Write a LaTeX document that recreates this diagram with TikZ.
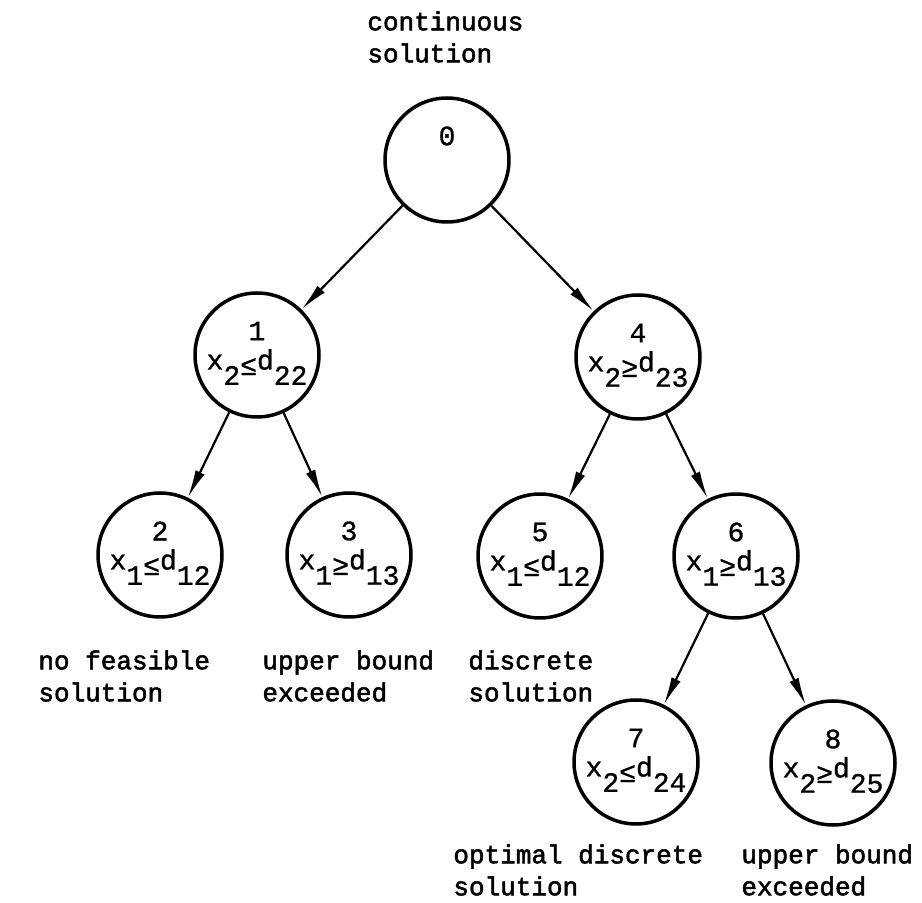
\documentclass[tikz,border=0pt]{standalone}
\usepackage{fontspec}
\setmainfont{Liberation Mono}
\newfontfamily\labelfont{Liberation Mono}[FakeBold=2]
\newfontfamily\nodefont{Liberation Mono}[FakeBold=1]
\usetikzlibrary{arrows.meta}
\newcommand\lowsub[1]{\raisebox{-0.55em}{#1}}
\newcommand\lowle{\raisebox{-0.2em}{≤}}
\newcommand\lowge{\raisebox{-0.2em}{≥}}
\tikzset{
  statenode/.style={circle, draw, line width=1.75pt, minimum size=62pt, inner sep=0pt},
  numtext/.style={inner sep=0pt, font=\nodefont\fontsize{14}{16}\selectfont},
  condtext/.style={inner sep=0pt, font=\nodefont\fontsize{14}{16}\selectfont},
  notetext/.style={inner sep=0pt, anchor=west, align=left, font=\labelfont\fontsize{13}{16}\selectfont},
  branch/.style={line width=1.1pt, -{Latex[length=14pt,width=5pt]}}
}
\begin{document}
\begin{tikzpicture}[x=0.5pt, y=-0.5pt]
\useasboundingbox (0,0) rectangle (922,903);
% states
\node[statenode] (n0) at (447,160) {};
\node[statenode] (n1) at (257,355) {};
\node[statenode] (n4) at (638,357) {};
\node[statenode] (n2) at (160,555) {};
\node[statenode] (n3) at (349,555) {};
\node[statenode] (n5) at (540,556) {};
\node[statenode] (n6) at (736,556) {};
\node[statenode] (n7) at (636,762) {};
\node[statenode] (n8) at (833,763) {};
% numbers
\node[numtext] (t0) at ([yshift=12pt]n0.center) {0};
\node[numtext] (t1) at ([yshift=12pt]n1.center) {1};
\node[numtext] (t4) at ([yshift=12pt]n4.center) {4};
\node[numtext] (t2) at ([yshift=12pt]n2.center) {2};
\node[numtext] (t3) at ([yshift=12pt]n3.center) {3};
\node[numtext] (t5) at ([yshift=12pt]n5.center) {5};
\node[numtext] (t6) at ([yshift=12pt]n6.center) {6};
\node[numtext] (t7) at ([yshift=12pt]n7.center) {7};
\node[numtext] (t8) at ([yshift=12pt]n8.center) {8};
% conditions
\node[condtext] (c1) at ([yshift=-6pt]n1.center) {x\lowsub{2}\lowle d\lowsub{22}};
\node[condtext] (c4) at ([yshift=-6pt]n4.center) {x\lowsub{2}\lowge d\lowsub{23}};
\node[condtext] (c2) at ([yshift=-6pt]n2.center) {x\lowsub{1}\lowle d\lowsub{12}};
\node[condtext] (c3) at ([yshift=-6pt]n3.center) {x\lowsub{1}\lowge d\lowsub{13}};
\node[condtext] (c5) at ([yshift=-6pt]n5.center) {x\lowsub{1}\lowle d\lowsub{12}};
\node[condtext] (c6) at ([yshift=-6pt]n6.center) {x\lowsub{1}\lowge d\lowsub{13}};
\node[condtext] (c7) at ([yshift=-6pt]n7.center) {x\lowsub{2}\lowle d\lowsub{24}};
\node[condtext] (c8) at ([yshift=-6pt]n8.center) {x\lowsub{2}\lowge d\lowsub{25}};
% branches
\draw[branch] (n0) -- (n1);
\draw[branch] (n0) -- (n4);
\draw[branch] (n1) -- (n2);
\draw[branch] (n1) -- (n3);
\draw[branch] (n4) -- (n5);
\draw[branch] (n4) -- (n6);
\draw[branch] (n6) -- (n7);
\draw[branch] (n6) -- (n8);
% notes
\node[notetext] (l0) at (367,37) {continuous\\solution};
\node[notetext] (l2) at (38,676) {no feasible\\solution};
\node[notetext] (l3) at (262,676) {upper bound\\exceeded};
\node[notetext] (l5) at (468,676) {discrete\\solution};
\node[notetext] (l7) at (453,870) {optimal discrete\\solution};
\node[notetext] (l8) at (741,870) {upper bound\\exceeded};
\end{tikzpicture}
\end{document}
